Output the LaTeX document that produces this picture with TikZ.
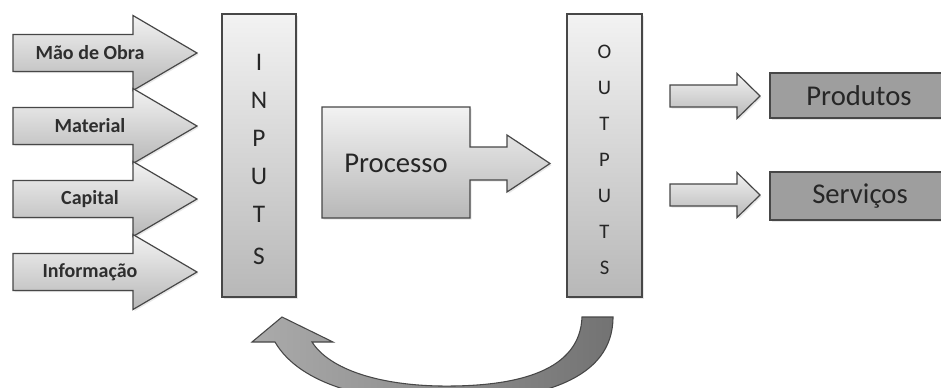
\documentclass[tikz,border=0pt]{standalone}
\usepackage{fontspec}
\setmainfont{Carlito}
\usetikzlibrary{shadows}
\begin{document}
\begin{tikzpicture}[x=0.75pt,y=-0.75pt,
  blockfill/.style={top color=black!5, bottom color=black!28, draw=black!72,
    line width=0.9pt, line join=miter,
    drop shadow={opacity=0.18, shadow xshift=1.2pt, shadow yshift=-1.2pt}},
  resultbox/.style={fill=black!38, draw=black!72, line width=0.9pt,
    drop shadow={opacity=0.18, shadow xshift=1.2pt, shadow yshift=-1.2pt}},
  inlabel/.style={font=\fontsize{15}{18}\selectfont\bfseries, text=black!82, inner sep=0pt},
  biglabel/.style={font=\fontsize{21.5}{24}\selectfont, text=black!85, inner sep=0pt},
  letterI/.style={font=\fontsize{19}{22}\selectfont, text=black!85, inner sep=0pt},
  letterO/.style={font=\fontsize{15.5}{18}\selectfont, text=black!85, inner sep=0pt},
  loopfill/.style={left color=black!33, right color=black!55, draw=black!72, line width=0.8pt}
]
\useasboundingbox (0,0) rectangle (941,387);
\clip (0,0) rectangle (941,387);
\fill[white] (0,0) rectangle (941,387);

% input block arrows (centre line y = \c)
\foreach \c/\lab/\nm in {53/{Mão de Obra}/maoobra, 126/Material/material, 199/Capital/capital, 272/{Informação}/informacao}{
  \path[blockfill] (13,\c-18.5) -- (133,\c-18.5) -- (133,\c-37.5) -- (197,\c)
    -- (133,\c+37.5) -- (133,\c+18.5) -- (13,\c+18.5) -- cycle;
  \node[inlabel] (\nm) at (90,\c) {\lab};
}

% INPUTS column
\path[blockfill] (222,14) rectangle (296,297);
\foreach \y/\l/\nm in {62/I/i1, 100/N/i2, 138/P/i3, 176/U/i4, 214/T/i5, 256/S/i6}
  \node[letterI] (\nm) at (259,\y) {\l};

% process block with its arrow
\path[blockfill] (322,107) -- (470,107) -- (470,147) -- (507,147) -- (507,135)
  -- (550,163.5) -- (507,192) -- (507,180) -- (470,180) -- (470,218) -- (322,218) -- cycle;
\node[biglabel] (processo) at (396,163) {Processo};

% OUTPUTS column
\path[blockfill] (567,14) rectangle (642,297);
\foreach \y/\l/\nm in {52/O/o1, 88/U/o2, 124/T/o3, 160/P/o4, 196/U/o5, 232/T/o6, 268/S/o7}
  \node[letterO] (\nm) at (604.5,\y) {\l};

% output arrows and result boxes
\foreach \c in {96,195}{
  \path[blockfill] (670,\c-11) -- (737,\c-11) -- (737,\c-22.5) -- (760,\c)
    -- (737,\c+22.5) -- (737,\c+11) -- (670,\c+11) -- cycle;
}
\path[resultbox] (770,73) rectangle (950,118);
\node[biglabel] (produtos) at (859,96) {Produtos};
\path[resultbox] (770,172) rectangle (950,220);
\node[biglabel] (servicos) at (860,196) {Serviços};

% feedback loop arrow from outputs back to inputs
\path[loopfill] (252,342) -- (282,317) -- (333,342) -- (312,342)
  .. controls (330,370) and (380,385) .. (440,386)
  .. controls (520,387) and (580,370) .. (582,317)
  -- (613,317)
  .. controls (613,380) and (540,400) .. (450,402)
  .. controls (370,403) and (300,385) .. (275,342) -- cycle;
\end{tikzpicture}
\end{document}
